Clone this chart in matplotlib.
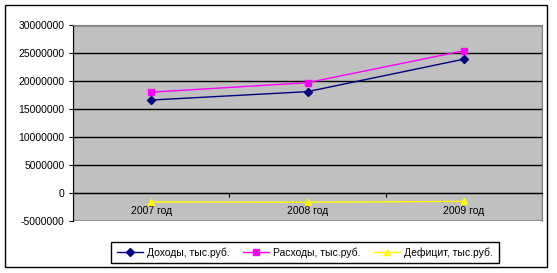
import matplotlib.pyplot as plt
from matplotlib.patches import Rectangle
from matplotlib.ticker import FixedLocator, NullFormatter, FixedFormatter

plt.rcParams["font.family"] = ["Liberation Sans", "DejaVu Sans"]
plt.rcParams["font.size"] = 7.5

years = ["2007 год", "2008 год", "2009 год"]
income = [16600000, 18100000, 23900000]
expenses = [18000000, 19700000, 25400000]
deficit = [-1600000, -1650000, -1500000]

W, H = 557, 273
fig = plt.figure(figsize=(W / 100, H / 100), dpi=100)

# outer chart frame
fig.patches.append(Rectangle((5 / W, 1 - 267 / H), 542 / W, 262 / H,
                             transform=fig.transFigure, fill=False,
                             edgecolor="black", linewidth=1))

ax = fig.add_axes([73 / W, 1 - 221 / H, 469 / W, 196 / H])
ax.set_facecolor("#c0c0c0")

x = [i + 0.5 for i in range(len(years))]
ax.plot(x, income, color="#000080", lw=1, marker="D", ms=4, label="Доходы, тыс.руб.")
ax.plot(x, expenses, color="#ff00ff", lw=1, marker="s", ms=5, label="Расходы, тыс.руб.")
ax.plot(x, deficit, color="#ffff00", lw=1, marker="^", ms=5, label="Дефицит, тыс.руб.")

ax.set_xlim(0, 3)
ax.set_ylim(-5000000, 30000000)
ax.set_yticks(range(-5000000, 30000001, 5000000))
ax.set_yticklabels([str(v) for v in range(-5000000, 30000001, 5000000)])
ax.grid(axis="y", color="black", lw=1)
ax.set_axisbelow(True)

for s in ["top", "right"]:
    ax.spines[s].set_color("#808080")
ax.spines["left"].set_color("black")
ax.spines["bottom"].set_position(("data", 0))
ax.spines["bottom"].set_color("black")
ax.add_patch(Rectangle((0, 0), 1, 1, transform=ax.transAxes, fill=False,
                       edgecolor="#808080", lw=1, zorder=0.5))

ax.xaxis.set_major_locator(FixedLocator([1, 2, 3]))
ax.xaxis.set_major_formatter(NullFormatter())
ax.xaxis.set_minor_locator(FixedLocator(x))
ax.xaxis.set_minor_formatter(FixedFormatter(years))
ax.tick_params(axis="x", which="major", direction="out", length=3, color="black")
ax.tick_params(axis="x", which="minor", length=0, pad=9.5)
ax.tick_params(axis="y", direction="out", length=3, pad=3)

leg = fig.legend(loc="center", bbox_to_anchor=(305 / W, 1 - 252.5 / H), ncol=3,
                 fancybox=False, edgecolor="black", framealpha=1,
                 handlelength=2.5, columnspacing=1.3, handletextpad=0.4,
                 borderpad=0.55)
leg.get_frame().set_linewidth(1)

fig.savefig("out.png", dpi=100)
